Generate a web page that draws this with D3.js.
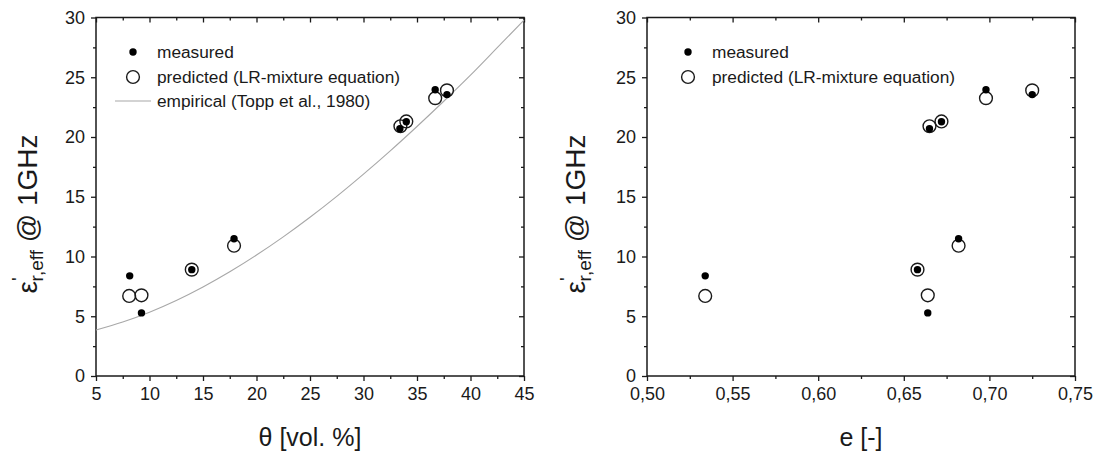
<!DOCTYPE html>
<html><head><meta charset="utf-8">
<script src="https://cdn.jsdelivr.net/npm/d3@7"></script>
<style>
body{margin:0;background:#fff;}
svg{display:block;font-family:"Liberation Sans",Arial,sans-serif;}
</style></head>
<body><svg id="c" width="1094" height="454"></svg>
<script>
// ---- data ----
const thetaVals = [8.15, 9.25, 13.95, 17.9, 33.4, 34.0, 36.7, 37.8];   // vol. %
const porosityVals = [0.534, 0.664, 0.658, 0.682, 0.665, 0.672, 0.698, 0.725]; // e [-]
const measuredVals = [8.38, 5.28, 8.9, 11.48, 20.7, 21.28, 23.95, 23.55];
const predictedThetaVals = [8.1, 9.25, 13.95, 17.9, 33.45, 34.0, 36.7, 37.8];
const predictedPorosityVals = [0.534, 0.664, 0.658, 0.682, 0.665, 0.672, 0.698, 0.725];
const predictedVals = [6.7, 6.75, 8.9, 10.9, 20.9, 21.3, 23.25, 23.9];
const toppTheta = [5, 7.5, 10, 12.5, 15, 17.5, 20, 22.5, 25, 27.5, 30, 32.5, 35, 37.5, 40, 42.5, 45];
const toppEps =   [3.85, 4.52, 5.34, 6.32, 7.45, 8.72, 10.12, 11.64, 13.28, 15.03, 16.89, 18.84, 20.88, 22.99, 25.17, 27.47, 29.79];
const yTicks = [0, 5, 10, 15, 20, 25, 30];
const thetaTicks = [5, 10, 15, 20, 25, 30, 35, 40, 45];
const eTicks = [0.50, 0.55, 0.60, 0.65, 0.70, 0.75];
const legendLeft = ["measured", "predicted (LR-mixture equation)", "empirical (Topp et al., 1980)"];
const legendRight = ["measured", "predicted (LR-mixture equation)"];

const svg = d3.select("#c");
const ink = "#1a1a1a";

function panel(opts){
  const {x0,x1,y0,y1,xDomain,xTicks,xMinor,fmt,xs,ps,xTitle,labelX,legend,legX,curve} = opts;
  const x = d3.scaleLinear().domain(xDomain).range([x0,x1]);
  const y = d3.scaleLinear().domain([0,30]).range([y1,y0]);
  const g = svg.append("g");
  const yMinor = d3.range(2.5, 30, 5);
  function ax(gen, tr){
    const a = g.append("g").attr("transform", tr).call(gen);
    a.select(".domain").remove();
    a.selectAll("line").attr("stroke", ink).attr("stroke-width", 1.3);
    a.selectAll("text").attr("fill", ink).style("font-size","18px").style("font-family",'"Liberation Sans",Arial,sans-serif');
    return a;
  }
  // bottom
  ax(d3.axisBottom(x).tickValues(xTicks).tickSize(5).tickPadding(6).tickFormat(fmt), `translate(0,${y1})`);
  ax(d3.axisBottom(x).tickValues(xMinor).tickSize(3).tickFormat(""), `translate(0,${y1})`);
  // top (inward)
  ax(d3.axisTop(x).tickValues(xTicks).tickSize(-5).tickFormat(""), `translate(0,${y0})`);
  ax(d3.axisTop(x).tickValues(xMinor).tickSize(-3).tickFormat(""), `translate(0,${y0})`);
  // left
  ax(d3.axisLeft(y).tickValues(yTicks).tickSize(5).tickPadding(6).tickFormat(d3.format("d")), `translate(${x0},0)`);
  ax(d3.axisLeft(y).tickValues(yMinor).tickSize(3).tickFormat(""), `translate(${x0},0)`);
  // right (inward)
  ax(d3.axisRight(y).tickValues(yTicks).tickSize(-5).tickFormat(""), `translate(${x1},0)`);
  ax(d3.axisRight(y).tickValues(yMinor).tickSize(-3).tickFormat(""), `translate(${x1},0)`);
  // frame
  g.append("rect").attr("x",x0).attr("y",y0).attr("width",x1-x0).attr("height",y1-y0)
    .attr("fill","none").attr("stroke",ink).attr("stroke-width",1.5);

  if(curve){
    const line = d3.line().x(d=>x(d[0])).y(d=>y(d[1])).curve(d3.curveMonotoneX);
    g.append("path").datum(curve).attr("d", line).attr("fill","none")
      .attr("stroke","#a8a8a8").attr("stroke-width",1.1);
  }
  // predicted open circles
  g.selectAll(".p").data(ps).enter().append("circle")
    .attr("cx", d=>x(d[0])).attr("cy", d=>y(d[1])).attr("r", 6.4)
    .attr("fill","none").attr("stroke",ink).attr("stroke-width",1.4);
  // measured dots
  g.selectAll(".m").data(xs).enter().append("circle")
    .attr("cx", d=>x(d[0])).attr("cy", d=>y(d[1])).attr("r", 3.7)
    .attr("fill","#000");

  // x title
  g.append("text").attr("x",(x0+x1)/2).attr("y",446).attr("text-anchor","middle")
    .attr("fill",ink).style("font-size","25px").text(xTitle);
  // y title
  const yt = g.append("text").attr("transform",`translate(${labelX},214) rotate(-90)`)
    .attr("text-anchor","middle").attr("fill",ink).style("font-size","28px");
  yt.append("tspan").text("ε");
  yt.append("tspan").attr("dy",-12).style("font-size","19px").text("'");
  yt.append("tspan").attr("dy",18).attr("dx",-4).style("font-size","19px").text("r,eff");
  yt.append("tspan").attr("dy",-6).text(" @ 1GHz");

  // legend
  const lg = g.append("g");
  lg.append("circle").attr("cx",legX).attr("cy",52).attr("r",3.7).attr("fill","#000");
  lg.append("circle").attr("cx",legX).attr("cy",77).attr("r",6.4).attr("fill","none").attr("stroke",ink).attr("stroke-width",1.4);
  if(legend.length>2){
    lg.append("line").attr("x1",legX-18).attr("x2",legX+18).attr("y1",101).attr("y2",101)
      .attr("stroke","#a8a8a8").attr("stroke-width",1.1);
  }
  legend.forEach((t,i)=>{
    lg.append("text").attr("x",legX+24).attr("y",58+i*24.5).attr("fill",ink)
      .style("font-size","17.3px").text(t);
  });
}

const fmtComma = d => d3.format(".2f")(d).replace(".", ",");

panel({x0:96,x1:524,y0:17.5,y1:376,xDomain:[5,45],xTicks:thetaTicks,
  xMinor:d3.range(7.5,45,5),fmt:d3.format("d"),
  xs:thetaVals.map((v,i)=>[v,measuredVals[i]]),
  ps:predictedThetaVals.map((v,i)=>[v,predictedVals[i]]),
  xTitle:"θ [vol. %]",labelX:37,legend:legendLeft,legX:133,
  curve:toppTheta.map((v,i)=>[v,toppEps[i]])});

panel({x0:647,x1:1075,y0:17.5,y1:376,xDomain:[0.5,0.75],xTicks:eTicks,
  xMinor:d3.range(0.525,0.75,0.05),fmt:fmtComma,
  xs:porosityVals.map((v,i)=>[v,measuredVals[i]]),
  ps:predictedPorosityVals.map((v,i)=>[v,predictedVals[i]]),
  xTitle:"e [-]",labelX:585,legend:legendRight,legX:688,curve:null});
</script></body></html>
